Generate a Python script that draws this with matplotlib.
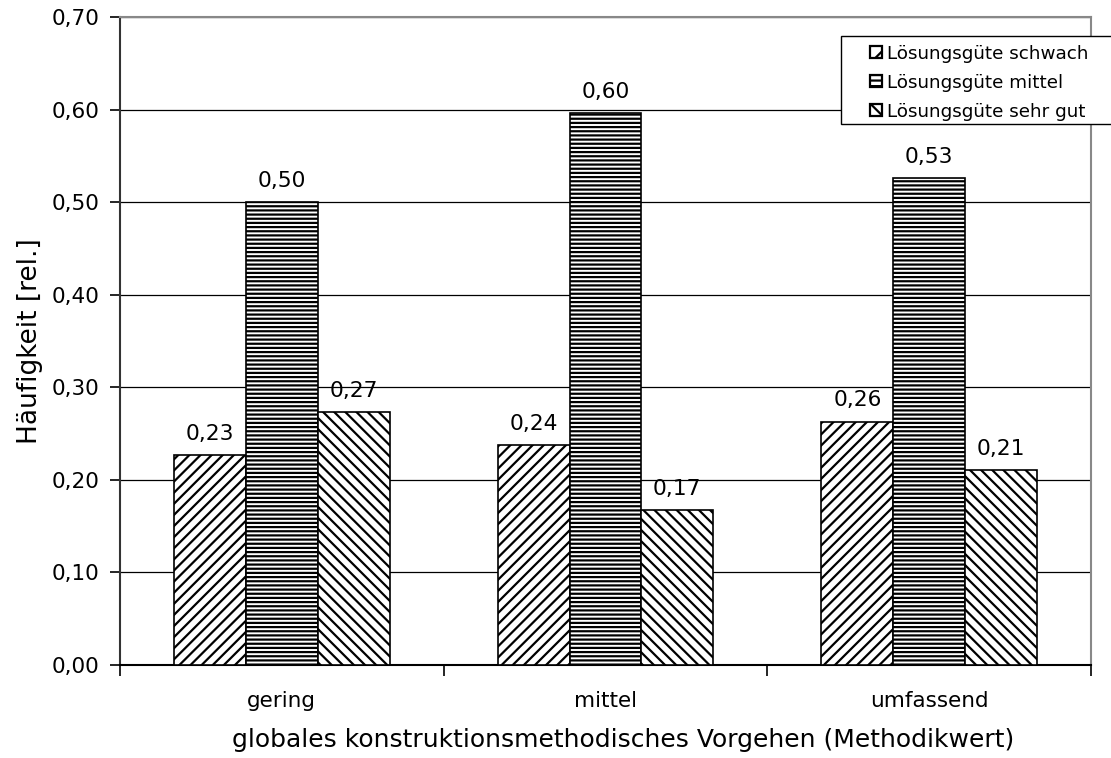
import matplotlib
matplotlib.use("Agg")
import matplotlib.pyplot as plt
import numpy as np
from matplotlib.patches import Rectangle

categories = ["gering", "mittel", "umfassend"]
series_names = ["Lösungsgüte schwach", "Lösungsgüte mittel", "Lösungsgüte sehr gut"]
schwach = [0.227, 0.238, 0.263]
mittel = [0.500, 0.596, 0.526]
sehr_gut = [0.273, 0.167, 0.211]
y_ticks = [0.0, 0.1, 0.2, 0.3, 0.4, 0.5, 0.6, 0.7]

plt.rcParams["font.family"] = ["DejaVu Sans"]
plt.rcParams["hatch.linewidth"] = 1.6
plt.rcParams["hatch.color"] = "black"

fig = plt.figure(figsize=(11.11, 7.58), dpi=100)
W, H = 1111, 758
ax = fig.add_axes([120 / W, 1 - 665 / H, (1091 - 120) / W, (665 - 17) / H])

x = np.arange(len(categories))
bw = 0.222
hatches = ["///", "----", "\\\\\\"]
series = [schwach, mittel, sehr_gut]
for i, (vals, h) in enumerate(zip(series, hatches)):
    pos = x + (i - 1) * bw
    ax.bar(pos, vals, width=bw, color="white", edgecolor="black",
           linewidth=1.2, hatch=h, zorder=3)
    for p, v in zip(pos, vals):
        ax.text(p, v + 0.012, f"{v:.2f}".replace(".", ","), ha="center",
                va="bottom", fontsize=15.7, color="black", zorder=4)

ax.set_xlim(-0.5, 2.5)
ax.set_ylim(0, 0.7)
ax.set_yticks(y_ticks)
ax.set_yticklabels([f"{t:.2f}".replace(".", ",") for t in y_ticks], fontsize=15.5)
ax.set_xticks(x)
ax.set_xticklabels(categories, fontsize=15.5)
ax.set_xticks([-0.5, 0.5, 1.5, 2.5], minor=True)
ax.tick_params(axis="x", which="major", length=0, pad=19)
ax.tick_params(axis="x", which="minor", length=8, width=1.2, direction="out")
ax.tick_params(axis="y", length=7, width=1.2, direction="out", pad=8)

ax.grid(axis="y", color="black", linewidth=0.9, zorder=0)
ax.set_axisbelow(True)
for s in ["top", "right"]:
    ax.spines[s].set_color("#888888")
    ax.spines[s].set_linewidth(1.5)
ax.spines["left"].set_color("#333333")
ax.spines["left"].set_linewidth(1.5)
ax.spines["bottom"].set_color("black")
ax.spines["bottom"].set_linewidth(1.5)

ax.set_ylabel("Häufigkeit [rel.]", fontsize=19, labelpad=6)
ax.set_xlabel("globales konstruktionsmethodisches Vorgehen (Methodikwert)",
              fontsize=18, labelpad=5)
ax.xaxis.set_label_coords(0.518, -0.097)

# Legend box, anchored at the top right and running past the figure edge
def fx(px):
    return px / W


def fy(py):
    return 1 - py / H


fig.patches.append(Rectangle((fx(841), fy(124)), fx(1130) - fx(841), fy(36) - fy(124),
                             transform=fig.transFigure, facecolor="white",
                             edgecolor="black", linewidth=1.0, zorder=10))
legend_hatches = ["//", "---", "\\\\"]
row_y = [52, 81, 110]
for name, h, ry in zip(series_names, legend_hatches, row_y):
    fig.patches.append(Rectangle((fx(870), fy(ry + 6)), fx(882) - fx(870), fy(ry - 6) - fy(ry + 6),
                                 transform=fig.transFigure, facecolor="white",
                                 edgecolor="black", linewidth=1.6, hatch=h, zorder=11))
    fig.text(fx(887), fy(ry), name, fontsize=13.2, ha="left", va="center_baseline",
             zorder=12)

fig.savefig("out.png", dpi=100, facecolor="white")
